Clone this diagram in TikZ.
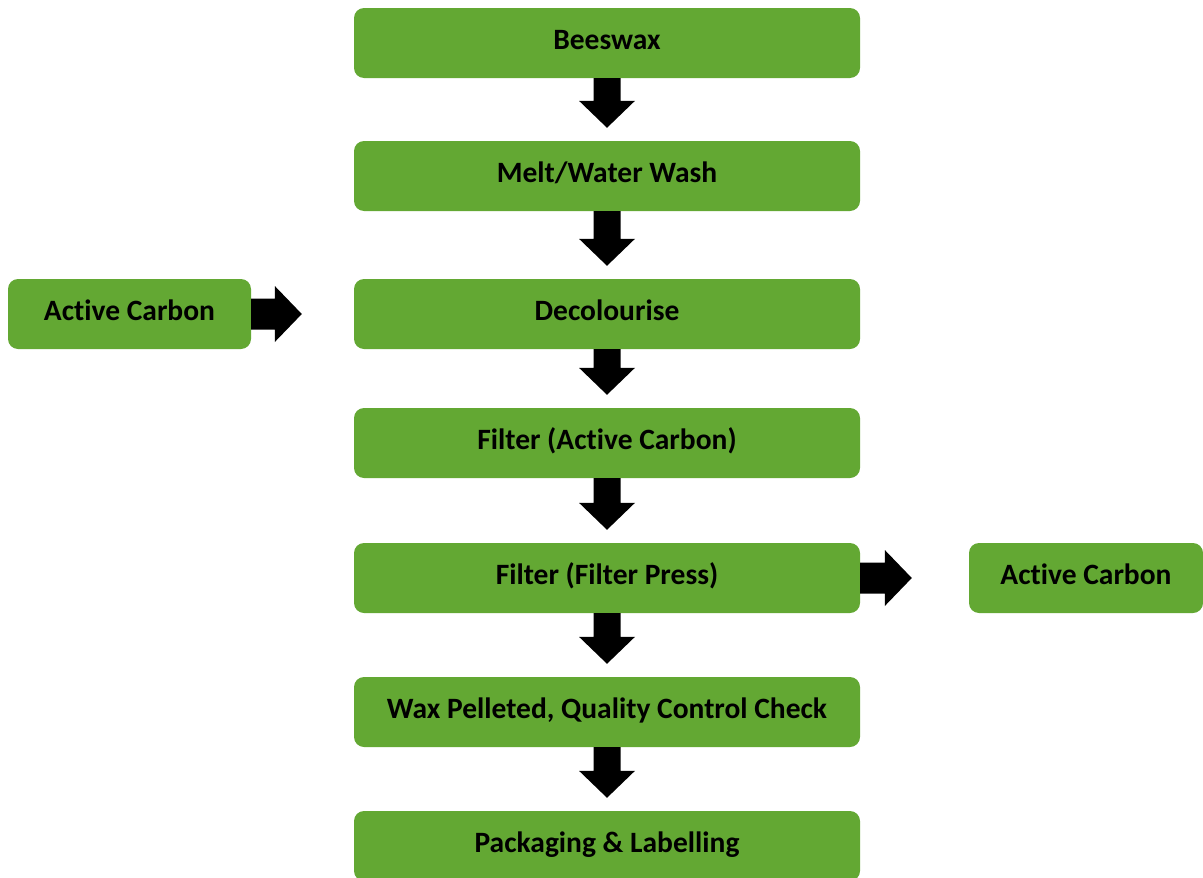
\documentclass[tikz,border=0pt]{standalone}
\usepackage{fontspec}
\setmainfont{Carlito}[Ligatures=NoCommon]
\usetikzlibrary{calc}
\definecolor{leafgreen}{RGB}{99,168,51}
\tikzset{
    stepbox/.style={fill=leafgreen, rounded corners=10pt, minimum width=506pt, minimum height=70pt,
        inner sep=0pt, text height=18pt, text depth=6pt, font=\fontsize{29.5}{34}\selectfont\bfseries},
    sidebox/.style={stepbox, minimum width=243pt}
}
% block arrow from the bottom of #1 down to just above #2
\newcommand{\dnarrow}[2]{%
    \fill let \p1=(#1.south), \p2=(#2.north) in
        (\x1-13.5pt,\y1) -- (\x1-13.5pt,\y2+40pt) -- (\x1-28pt,\y2+40pt) -- (\x1,\y2+13pt)
        -- (\x1+28pt,\y2+40pt) -- (\x1+13.5pt,\y2+40pt) -- (\x1+13.5pt,\y1) -- cycle;}
% block arrow from the right of #1 towards #2, stopping #3 short of it
\newcommand{\rtarrow}[3]{%
    \fill let \p1=(#1.east), \p2=(#2.west) in
        (\x1,\y1+15.5pt) -- (\x2-#3-27pt,\y1+15.5pt) -- (\x2-#3-27pt,\y1+28pt) -- (\x2-#3,\y1)
        -- (\x2-#3-27pt,\y1-28pt) -- (\x2-#3-27pt,\y1-15.5pt) -- (\x1,\y1-15.5pt) -- cycle;}
\begin{document}
\begin{tikzpicture}[x=1pt, y=-1pt]
    \useasboundingbox (0,0) rectangle (1203,878);
    \node[stepbox] (beeswax) at (607,43) {Beeswax};
    \node[stepbox] (melt) at (607,176) {Melt/Water Wash};
    \node[stepbox] (decol) at (607,314) {Decolourise};
    \node[stepbox] (filtac) at (607,443) {Filter (Active Carbon)};
    \node[stepbox] (filtfp) at (607,578) {Filter (Filter Press)};
    \node[stepbox] (pellet) at (607,712) {Wax Pelleted, Quality Control Check};
    \node[stepbox] (pack) at (607,846) {Packaging \& Labelling};
    \node[sidebox] (carbin) at (129.5,314) {Active Carbon};
    \node[sidebox, minimum width=234pt] (carbout) at (1086,578) {Active Carbon};
    \dnarrow{beeswax}{melt}
    \dnarrow{melt}{decol}
    \dnarrow{decol}{filtac}
    \dnarrow{filtac}{filtfp}
    \dnarrow{filtfp}{pellet}
    \dnarrow{pellet}{pack}
    \rtarrow{carbin}{decol}{52pt}
    \rtarrow{filtfp}{carbout}{57pt}
\end{tikzpicture}
\end{document}
